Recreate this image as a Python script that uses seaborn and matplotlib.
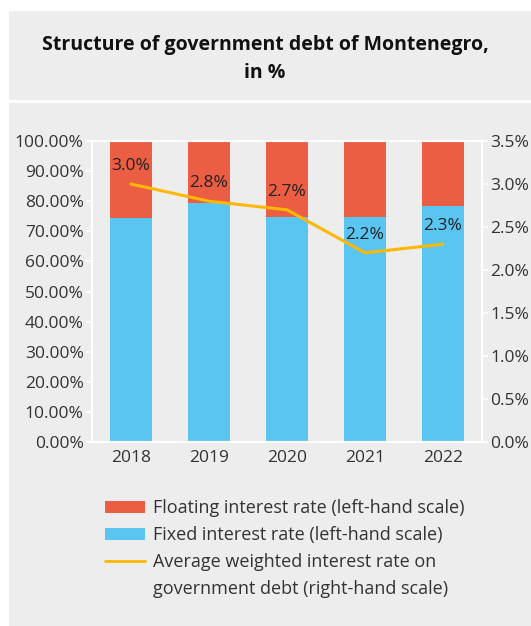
import numpy as np
import pandas as pd
import matplotlib
matplotlib.use("Agg")
import matplotlib.pyplot as plt
from matplotlib.patches import Rectangle, Patch
from matplotlib.lines import Line2D
from matplotlib.ticker import FuncFormatter
import seaborn as sns

years = ["2018", "2019", "2020", "2021", "2022"]
fixed_share = [74.5, 79.4, 74.6, 74.6, 78.4]
floating_share = [25.5, 20.6, 25.4, 25.4, 21.6]
avg_rate = [3.0, 2.8, 2.7, 2.2, 2.3]

FLOAT_C = "#EB5E43"
FIXED_C = "#5BC5F2"
LINE_C = "#FFB800"
BG = "#EDEDED"
TXT = "#333333"

sns.set_theme(style="white")
plt.rcParams["font.family"] = ["Open Sans", "DejaVu Sans"]

df = pd.DataFrame({"year": years, "fixed": fixed_share, "floating": floating_share})
df["total"] = df["fixed"] + df["floating"]

fig = plt.figure(figsize=(5.31, 6.26), dpi=100)
fig.patch.set_facecolor("white")
# grey panels behind everything
fig.patches.append(Rectangle((9 / 531, 1 - 100 / 626), 1, 89 / 626, transform=fig.transFigure,
                             facecolor=BG, edgecolor="none", zorder=-10))
fig.patches.append(Rectangle((9 / 531, 0), 1, 1 - 103 / 626, transform=fig.transFigure,
                             facecolor=BG, edgecolor="none", zorder=-10))

fig.text(265 / 531, 1 - 45 / 626, "Structure of government debt of Montenegro,",
         ha="center", va="center", fontsize=14, fontweight="bold", color="#111111")
fig.text(265 / 531, 1 - 73 / 626, "in %", ha="center", va="center",
         fontsize=14, fontweight="bold", color="#111111")

ax = fig.add_axes([92 / 531, 1 - 442 / 626, 390 / 531, 301 / 626])
ax.set_facecolor(BG)
sns.barplot(data=df, x="year", y="total", color=FLOAT_C, width=0.54, ax=ax,
            saturation=1, edgecolor="none")
sns.barplot(data=df, x="year", y="fixed", color=FIXED_C, width=0.54, ax=ax,
            saturation=1, edgecolor="none")
ax.set_xlim(-0.5, len(years) - 0.5)
ax.set_ylim(0, 100)
ax.set_yticks(np.arange(0, 101, 10))
ax.yaxis.set_major_formatter(FuncFormatter(lambda v, p: f"{v:.2f}%"))
ax.set_xlabel("")
ax.set_ylabel("")

ax2 = ax.twinx()
x_pos = np.arange(len(years))
sns.lineplot(x=x_pos, y=avg_rate, color=LINE_C, linewidth=2.2, ax=ax2)
ax2.set_ylim(0, 3.5)
ax2.set_yticks(np.arange(0, 3.51, 0.5))
ax2.yaxis.set_major_formatter(FuncFormatter(lambda v, p: f"{v:.1f}%"))
ax2.set_xlim(-0.5, len(years) - 0.5)
for xi, r in zip(x_pos, avg_rate):
    ax2.annotate(f"{r:.1f}%", (xi, r), xytext=(0, 7), textcoords="offset points",
                 ha="center", va="bottom", fontsize=12.5, color="#222222")

for a in (ax, ax2):
    for s in a.spines.values():
        s.set_color("white")
        s.set_linewidth(1.5)
    a.tick_params(axis="both", colors="white", labelcolor=TXT, labelsize=12.5,
                  length=4, width=1.2, direction="out", pad=2)
ax.tick_params(axis="x", length=0, pad=6)

# the line label wraps onto a second row with no handle, so split it in two entries
handles = [Patch(facecolor=FLOAT_C, edgecolor="none"),
           Patch(facecolor=FIXED_C, edgecolor="none"),
           Line2D([], [], color=LINE_C, linewidth=2),
           Line2D([], [], color="none")]
labels = ["Floating interest rate (left-hand scale)",
          "Fixed interest rate (left-hand scale)",
          "Average weighted interest rate on",
          "government debt (right-hand scale)"]
leg = fig.legend(handles, labels, loc="upper left", bbox_to_anchor=(98 / 531, 1 - 492 / 626),
                 frameon=False, fontsize=13, handlelength=2.2, handleheight=0.7,
                 handletextpad=0.45, labelspacing=0.5, borderaxespad=0)
for t in leg.get_texts():
    t.set_color(TXT)

fig.savefig("out.png", dpi=100)
